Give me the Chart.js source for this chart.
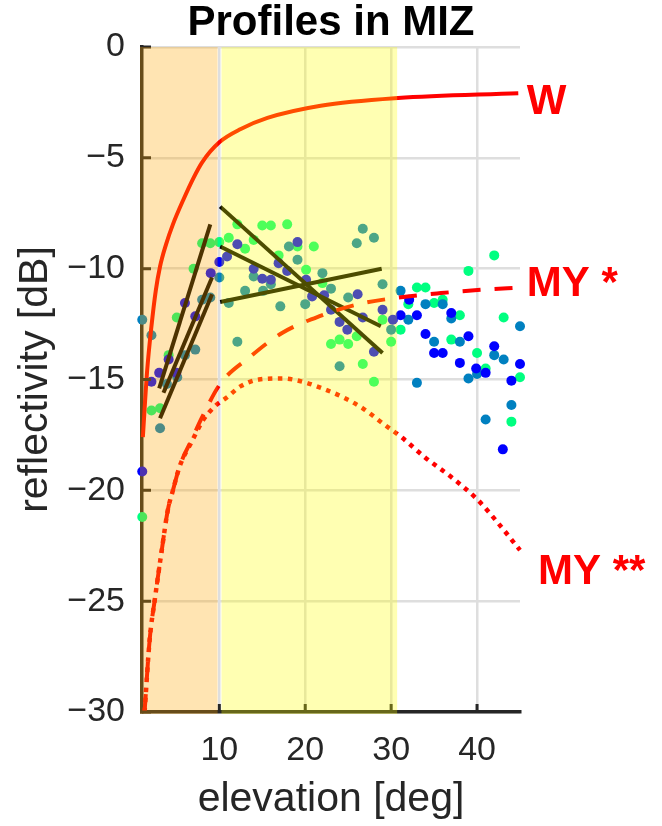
<!DOCTYPE html>
<html>
<head>
<meta charset="utf-8">
<script src="https://cdn.jsdelivr.net/npm/chart.js@4.4.0/dist/chart.umd.min.js"></script>
<style>
  html, body { margin: 0; padding: 0; background: #fff; }
</style>
</head>
<body>
<canvas id="mycanvas" width="662" height="826"></canvas>
<script>
// scatter profiles (elevation deg, reflectivity dB), one array per colour
var blueDots = [
  [1.03,-19.15],[2.1,-15.1],[3.0,-14.7],[4.1,-14.1],[5.0,-14.7],[6.0,-11.55],[7.2,-12.15],
  [9.0,-10.2],[10.0,-9.7],[10.9,-9.45],[12.1,-8.9],[14.0,-10.0],[15.0,-10.45],[16.0,-10.5],
  [16.9,-9.75],[17.9,-10.1],[19.1,-8.8],[20.1,-10.5],[20.8,-11.25],[22.2,-11.2],[23.0,-11.85],
  [24.0,-12.4],[24.9,-12.75],[26.1,-11.15],[26.7,-12.2],[28.0,-13.75],[29.0,-11.85],[30.2,-12.3],
  [31.1,-12.1],[32.1,-11.4],[33.0,-12.1],[34.0,-12.95],[35.0,-13.8],[36.0,-13.8],[37.0,-12.0],
  [38.0,-14.25],[39.0,-13.05],[39.9,-14.5],[41.0,-14.7],[42.0,-13.5],[43.0,-18.15],[44.0,-15.05],
  [45.0,-14.3]
];
var tealDots = [
  [1.03,-12.3],[2.1,-13.0],[3.1,-17.2],[3.9,-15.2],[5.1,-14.9],[6.0,-13.9],[7.2,-13.65],
  [8.0,-11.4],[8.95,-11.3],[10.0,-10.4],[11.1,-11.55],[12.1,-13.3],[13.0,-11.0],[14.0,-10.35],
  [15.1,-11.0],[16.0,-10.7],[17.1,-11.7],[18.1,-9.0],[19.1,-9.6],[20.0,-11.6],[22.0,-10.2],
  [23.0,-10.9],[24.0,-14.4],[25.0,-11.3],[26.0,-8.85],[26.7,-8.2],[28.0,-8.6],[29.0,-10.7],
  [30.0,-12.75],[31.1,-11.0],[32.0,-12.3],[33.0,-15.15],[34.0,-11.6],[35.0,-13.3],[36.0,-11.6],
  [37.0,-12.25],[38.0,-13.3],[39.0,-14.95],[40.0,-14.75],[41.0,-16.8],[42.0,-13.9],[43.1,-14.1],
  [44.0,-16.15],[45.0,-12.6]
];
var greenDots = [
  [1.03,-21.2],[2.1,-16.4],[3.1,-16.3],[4.1,-13.9],[5.05,-12.2],[7.0,-10.0],[8.0,-8.85],
  [8.95,-8.85],[10.0,-8.8],[11.1,-8.6],[12.1,-8.0],[13.0,-9.1],[14.0,-8.7],[15.0,-8.05],
  [16.0,-8.05],[16.9,-9.4],[17.9,-8.0],[19.1,-9.0],[20.1,-10.05],[21.0,-9.0],[22.0,-10.65],
  [23.0,-13.4],[24.0,-13.2],[25.0,-13.4],[26.0,-13.05],[26.7,-14.3],[28.0,-15.1],[29.0,-12.3],
  [30.0,-13.3],[31.1,-12.75],[32.0,-11.6],[33.0,-10.85],[34.0,-10.85],[35.0,-11.55],[36.0,-11.4],
  [37.0,-13.2],[38.0,-12.1],[39.0,-10.1],[40.0,-13.8],[41.0,-14.5],[42.0,-9.4],[43.1,-12.2],
  [44.0,-16.9],[45.0,-14.9]
];

// fitted trend segments [x0, y0, x1, y1]
var trendLines = [
  [3.0,-15.4, 8.95,-8.0],
  [3.5,-15.6, 9.15,-10.4],
  [3.1,-16.75, 9.15,-11.15],
  [10.1,-7.2, 29.0,-13.8],
  [10.1,-9.0, 28.8,-12.6],
  [10.1,-11.5, 28.9,-10.0]
];

// model curves
var curveW = [
  [1.1,-17.6],[1.6,-14.6],[2.1,-12.6],[2.6,-11.0],[3.1,-9.9],[3.8,-8.9],[4.6,-8.0],[5.8,-6.9],
  [7.0,-5.9],[8.0,-5.2],[10.0,-4.3],[12.5,-3.7],[15.6,-3.2],[21.8,-2.65],[30.8,-2.3],[44.8,-2.08]
];
var curveMY1 = [
  [1.3,-30],[1.9,-26.7],[2.5,-24.9],[3.3,-22.7],[4.0,-20.9],[4.6,-20.0],[5.4,-18.9],[6.8,-17.7],
  [8.0,-16.7],[10.1,-15.2],[13.5,-14.0],[17.3,-12.9],[21.6,-12.15],[26.2,-11.6],[30.9,-11.3],
  [35.8,-11.1],[40.6,-10.95],[45,-10.85]
];
var curveMY2 = [
  [1.3,-30],[1.9,-26.7],[2.5,-24.9],[3.3,-22.7],[4.0,-20.9],[4.6,-20.0],[5.4,-18.9],[6.8,-17.8],
  [8.0,-16.9],[9.5,-16.2],[10.9,-15.8],[12.5,-15.3],[14.6,-15.0],[17.4,-14.95],[19.7,-15.1],
  [22,-15.4],[24.4,-15.8],[26.7,-16.3],[29.1,-17.0],[31.2,-17.6],[33.9,-18.5],[37,-19.4],
  [40,-20.4],[42.5,-21.5],[45,-22.7]
];

var curveNames = ['W', 'MY *', 'MY **'];
var nameX = [45.8, 45.8, 47.1];
var nameY = [-2.5, -10.7, -23.7];

var xTicks = [10, 20, 30, 40];
var yTicks = [-30, -25, -20, -15, -10, -5, 0];

var bandFrom = [1, 10.25];
var bandTo = [9.8, 30.7];

function pts(arr) {
  return arr.map(function(p){ return {x: p[0], y: p[1]}; });
}

Chart.defaults.font.family = "'Liberation Sans', Arial, sans-serif";

var datasets = [
  { type: 'line', data: pts(curveW), borderColor: '#ff0000', borderWidth: 4, pointRadius: 0,
    cubicInterpolationMode: 'monotone', clip: false },
  { type: 'line', data: pts(curveMY1), borderColor: '#ff0000', borderWidth: 4, pointRadius: 0,
    borderDash: [18, 14], cubicInterpolationMode: 'monotone', clip: false },
  { type: 'line', data: pts(curveMY2), borderColor: '#ff0000', borderWidth: 4.5, pointRadius: 0,
    borderDash: [4.5, 5.5], cubicInterpolationMode: 'monotone', clip: false }
];
trendLines.forEach(function(s){
  datasets.push({ type: 'line', data: [{x: s[0], y: s[1]}, {x: s[2], y: s[3]}],
    borderColor: '#000000', borderWidth: 4, pointRadius: 0, clip: false });
});
[[blueDots, '#0000ff'], [tealDots, '#0080c0'], [greenDots, '#00ff80']].forEach(function(d){
  datasets.push({ type: 'scatter', data: pts(d[0]), backgroundColor: d[1], borderWidth: 0,
    pointRadius: 5, clip: false });
});

var overlay = {
  id: 'overlay',
  afterDatasetsDraw: function(chart) {
    var ctx = chart.ctx, a = chart.chartArea;
    var xs = chart.scales.x, ys = chart.scales.y;
    ctx.save();
    // inward tick marks
    ctx.strokeStyle = '#262626';
    ctx.lineWidth = 3;
    ctx.beginPath();
    xTicks.forEach(function(t){
      var px = xs.getPixelForValue(t);
      ctx.moveTo(px, a.bottom); ctx.lineTo(px, a.bottom - 8);
    });
    yTicks.forEach(function(t){
      var py = ys.getPixelForValue(t);
      ctx.moveTo(a.left, py); ctx.lineTo(a.left + 9, py);
    });
    ctx.stroke();
    // shaded elevation ranges
    var colors = ['rgba(255,165,0,0.3)', 'rgba(255,255,0,0.3)'];
    for (var i = 0; i < bandFrom.length; i++) {
      var x0 = xs.getPixelForValue(bandFrom[i]);
      var x1 = xs.getPixelForValue(bandTo[i]);
      if (bandFrom[i] <= xs.min) x0 -= 2;
      ctx.fillStyle = colors[i];
      ctx.fillRect(x0, a.top, x1 - x0, a.bottom - a.top + 2);
    }
    ctx.restore();
  },
  afterDraw: function(chart) {
    var ctx = chart.ctx;
    var xs = chart.scales.x, ys = chart.scales.y;
    ctx.save();
    ctx.fillStyle = '#ff0000';
    ctx.font = "bold 42px 'Liberation Sans', Arial, sans-serif";
    ctx.textAlign = 'left';
    ctx.textBaseline = 'middle';
    for (var i = 0; i < curveNames.length; i++) {
      ctx.fillText(curveNames[i], xs.getPixelForValue(nameX[i]), ys.getPixelForValue(nameY[i]));
    }
    ctx.restore();
  }
};

var ctx = document.getElementById('mycanvas');
var chart = new Chart(ctx, {
  type: 'scatter',
  data: { datasets: datasets },
  options: {
    responsive: false,
    animation: false,
    devicePixelRatio: 1,
    layout: { padding: 0 },
    plugins: {
      legend: { display: false },
      tooltip: { enabled: false },
      title: {
        display: true,
        text: 'Profiles in MIZ',
        color: '#000',
        font: { size: 42, weight: 'bold', lineHeight: 1.12 },
        padding: { top: 0, bottom: 0 }
      }
    },
    scales: {
      x: {
        type: 'linear',
        min: 1,
        max: 45,
        afterBuildTicks: function(s){ s.ticks = xTicks.map(function(v){ return {value: v}; }); },
        afterFit: function(s){ s.height = 114; },
        grid: { color: '#dedede', lineWidth: 2.5, drawTicks: false },
        border: { color: '#262626', width: 3.5 },
        ticks: { color: '#262626', font: { size: 34 }, padding: 18, maxRotation: 0 },
        title: { display: true, text: 'elevation [deg]', color: '#262626',
          font: { size: 41 }, padding: { top: 0, bottom: 2 } }
      },
      y: {
        type: 'linear',
        min: -30,
        max: 0,
        afterBuildTicks: function(s){ s.ticks = yTicks.map(function(v){ return {value: v}; }); },
        afterFit: function(s){ s.width = 142; },
        grid: { color: '#dedede', lineWidth: 2.5, drawTicks: false },
        border: { color: '#262626', width: 3.5 },
        ticks: { color: '#262626', font: { size: 34 }, padding: 17,
          callback: function(v){ return String(v).replace('-', '\u2212'); } },
        title: { display: true, text: 'reflectivity [dB]', color: '#262626',
          font: { size: 41 }, padding: { top: 11, bottom: 0 } }
      },
      yRight: {
        position: 'right',
        display: true,
        afterFit: function(s){ s.width = 142; },
        grid: { display: false },
        border: { display: false },
        ticks: { display: false }
      }
    }
  },
  plugins: [overlay]
});
</script>
</body>
</html>
